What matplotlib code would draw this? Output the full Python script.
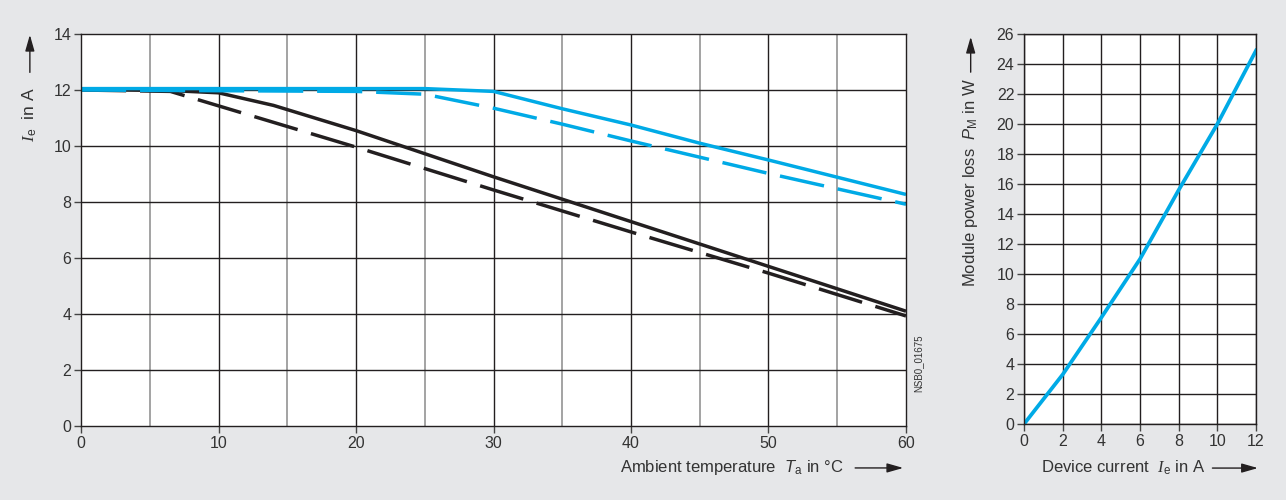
import matplotlib.pyplot as plt
import numpy as np

plt.rcParams['font.family'] = ['Liberation Sans', 'DejaVu Sans']
plt.rcParams['mathtext.fontset'] = 'custom'
plt.rcParams['mathtext.rm'] = 'Liberation Sans'
plt.rcParams['mathtext.it'] = 'Liberation Sans:italic'
# serif italic for the current symbol I, as in the datasheet
plt.rcParams['mathtext.bf'] = 'Liberation Serif:italic'

# Derating curves: ambient temperature (degC) vs. device current (A)
temp_black_solid = [0, 6.5, 10, 14, 20, 30, 40, 50, 60]
curr_black_solid = [12.02, 11.98, 11.9, 11.45, 10.55, 8.9, 7.3, 5.7, 4.1]

temp_black_dash = [0, 6.5, 20, 30, 40, 50, 60]
curr_black_dash = [12.0, 11.95, 9.96, 8.43, 6.93, 5.46, 3.93]

temp_blue_solid = [0, 25, 30, 35, 40, 45, 50, 60]
curr_blue_solid = [12.05, 12.05, 11.95, 11.33, 10.75, 10.1, 9.5, 8.27]

temp_blue_dash = [0, 20, 25, 30, 35, 40, 50, 60]
curr_blue_dash = [12.0, 11.95, 11.85, 11.35, 10.78, 10.18, 9.02, 7.92]

# Module power loss vs. device current
dev_current = [0, 2, 4, 6, 8, 10, 12]
power_loss = [0, 3.3, 7.1, 11.0, 15.6, 20.0, 24.9]

BG = '#e6e7e9'
BLUE = '#00aae6'
BLACK = '#231f20'
TXT = '#333333'

fig = plt.figure(figsize=(12.86, 5.0), dpi=100, facecolor=BG)
ax1 = fig.add_axes([0.063, 0.148, 0.6415, 0.784])
ax2 = fig.add_axes([0.7963, 0.152, 0.1804, 0.780])


def style_axis(ax):
    ax.set_facecolor('white')
    for s in ax.spines.values():
        s.set_color(BLACK)
        s.set_linewidth(1.0)
    ax.tick_params(direction='out', length=5, width=1, color='#444444',
                   labelsize=11.5, labelcolor=TXT, pad=2)
    ax.set_axisbelow(True)


# left chart
style_axis(ax1)
ax1.set_xlim(0, 60)
ax1.set_ylim(0, 14)
ax1.set_xticks(np.arange(0, 61, 10))
ax1.set_yticks(np.arange(0, 15, 2))
for x in np.arange(5, 60, 10):
    ax1.axvline(x, color='#8a8a8a', lw=1.1, zorder=0)
for x in np.arange(10, 60, 10):
    ax1.axvline(x, color=BLACK, lw=1.0, zorder=0)
for y in np.arange(2, 14, 2):
    ax1.axhline(y, color=BLACK, lw=1.0, zorder=0)

ax1.plot(temp_black_solid, curr_black_solid, color=BLACK, lw=2.5, solid_capstyle='butt')
ax1.plot(temp_black_dash, curr_black_dash, color=BLACK, lw=2.5, dashes=(13, 4))
ax1.plot(temp_blue_solid, curr_blue_solid, color=BLUE, lw=2.5, solid_capstyle='butt')
ax1.plot(temp_blue_dash, curr_blue_dash, color=BLUE, lw=2.5, dashes=(13, 4))

ax1.text(-0.062, 0.795, r'$\mathbf{I}_\mathrm{e}$  in A', rotation=90, transform=ax1.transAxes,
         ha='center', va='center', fontsize=12.5, color=TXT)
ax1.annotate('', xy=(-0.062, 1.005), xytext=(-0.062, 0.895), xycoords='axes fraction',
             arrowprops=dict(arrowstyle='-|>,head_length=0.7,head_width=0.2',
                             color=BLACK, lw=1, mutation_scale=14))
ax1.text(0.925, -0.107, r'Ambient temperature  $T_\mathrm{a}$ in °C', transform=ax1.transAxes,
         ha='right', va='center', fontsize=12, color=TXT)
ax1.annotate('', xy=(1.0, -0.107), xytext=(0.935, -0.107), xycoords='axes fraction',
             arrowprops=dict(arrowstyle='-|>,head_length=0.7,head_width=0.2',
                             color=BLACK, lw=1, mutation_scale=14))
ax1.text(1.015, 0.16, 'NSB0_01675', rotation=90, transform=ax1.transAxes,
         ha='center', va='center', fontsize=7, color=TXT)

# right chart
style_axis(ax2)
ax2.set_xlim(0, 12)
ax2.set_ylim(0, 26)
ax2.set_xticks(np.arange(0, 13, 2))
ax2.set_yticks(np.arange(0, 27, 2))
ax2.grid(True, color=BLACK, lw=1.0)
ax2.plot(dev_current, power_loss, color=BLUE, lw=2.7)

ax2.text(-0.23, 0.62, r'Module power loss  $P_\mathrm{M}$ in W', rotation=90,
         transform=ax2.transAxes, ha='center', va='center', fontsize=12, color=TXT)
ax2.annotate('', xy=(-0.23, 1.0), xytext=(-0.23, 0.895), xycoords='axes fraction',
             arrowprops=dict(arrowstyle='-|>,head_length=0.7,head_width=0.2',
                             color=BLACK, lw=1, mutation_scale=14))
ax2.text(0.78, -0.113, r'Device current  $\mathbf{I}_\mathrm{e}$ in A', transform=ax2.transAxes,
         ha='right', va='center', fontsize=12, color=TXT)
ax2.annotate('', xy=(1.02, -0.113), xytext=(0.80, -0.113), xycoords='axes fraction',
             arrowprops=dict(arrowstyle='-|>,head_length=0.7,head_width=0.2',
                             color=BLACK, lw=1, mutation_scale=14))

fig.savefig('out.png', dpi=100, facecolor=BG)
